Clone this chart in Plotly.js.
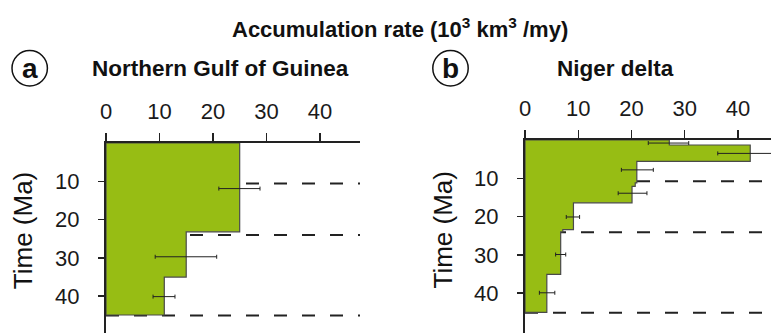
<!DOCTYPE html>
<html>
<head>
<meta charset="utf-8">
<script src="https://cdn.plot.ly/plotly-3.0.1.min.js"></script>
<style>html,body{margin:0;padding:0;background:#fff;}#chart{width:771px;height:333px;}</style>
</head>
<body>
<div id="chart"></div>
<script>
// ---- Data ----
// Panel a: Northern Gulf of Guinea
const boundsA = [0, 23.2, 35.0, 44.9];          // interval limits (Ma)
const ratesA  = [25.0, 15.0, 10.9];              // accumulation rate (10^3 km^3/my)
const errTimeA = [11.9, 29.7, 40.1];
const errMeanA = [24.95, 14.95, 10.85];
const errSizeA = [3.85, 5.75, 2.05];
const dashA = [10.6, 24.0, 45.0];

// Panel b: Niger delta
const boundsB = [0, 1.3, 5.6, 11.2, 12.1, 16.4, 23.4, 24.0, 35.1, 45.0];
const ratesB  = [27.1, 42.3, 21.0, 20.7, 20.1, 9.1, 7.1, 6.7, 4.1];
const errTimeB = [0.8, 3.5, 7.8, 13.9, 20.1, 29.9, 39.9];
const errMeanB = [26.95, 42.3, 21.1, 20.2, 9.0, 6.7, 4.15];
const errSizeB = [3.8, 6.1, 3.0, 2.7, 1.25, 0.95, 1.45];
const dashB = [10.8, 24.1, 45.1];

const xTicks = [0, 10, 20, 30, 40];
const yTicks = [10, 20, 30, 40];

// ---- Helpers ----
function stepPolygon(bounds, vals) {
  const xs = [0], ys = [bounds[0]];
  for (let i = 0; i < vals.length; i++) {
    xs.push(vals[i], vals[i]);
    ys.push(bounds[i], bounds[i + 1]);
  }
  xs.push(0); ys.push(bounds[bounds.length - 1]);
  xs.push(0); ys.push(bounds[0]);
  return {xs, ys};
}
const GREEN = '#97bd14';
const INK = '#222';
const FONT = 'Liberation Sans, Arial, Helvetica, sans-serif';

function barTrace(bounds, vals, xa, ya) {
  const p = stepPolygon(bounds, vals);
  return {x: p.xs, y: p.ys, xaxis: xa, yaxis: ya, type: 'scatter', mode: 'lines',
    fill: 'toself', fillcolor: GREEN, line: {color: '#4a4a4a', width: 1.2},
    hoverinfo: 'skip', showlegend: false};
}
function errTrace(t, m, e, xa, ya) {
  return {x: m, y: t, xaxis: xa, yaxis: ya, type: 'scatter', mode: 'markers',
    marker: {size: 1, color: 'rgba(0,0,0,0)'},
    error_x: {type: 'data', array: e, visible: true, color: INK, thickness: 1, width: 2},
    hoverinfo: 'skip', showlegend: false};
}

const data = [
  barTrace(boundsA, ratesA, 'x', 'y'),
  errTrace(errTimeA, errMeanA, errSizeA, 'x', 'y'),
  barTrace(boundsB, ratesB, 'x2', 'y2'),
  errTrace(errTimeB, errMeanB, errSizeB, 'x2', 'y2')
];

const W = 771, H = 333;
const px = v => v / W, py = v => 1 - v / H;

function xAxis(domain, range, anchor) {
  return {domain, range, anchor, side: 'top', tickvals: xTicks, ticktext: xTicks.map(String),
    ticks: 'outside', ticklen: 8, tickwidth: 1.5, tickcolor: INK,
    showline: true, linecolor: INK, linewidth: 2, showgrid: false, zeroline: false,
    ticklabelstandoff: 5,
    tickfont: {family: FONT, size: 22, color: '#1a1a1a'}, fixedrange: true};
}
function yAxis(domain, range, anchor) {
  return {domain, range, anchor, tickvals: yTicks, ticktext: yTicks.map(String),
    ticks: 'outside', ticklen: 6, tickwidth: 1.5, tickcolor: INK,
    showline: true, linecolor: INK, linewidth: 2, showgrid: false, zeroline: false,
    ticklabelstandoff: 14,
    tickfont: {family: FONT, size: 22, color: '#1a1a1a'}, fixedrange: true};
}

const shapes = [];
dashA.forEach(d => shapes.push({type: 'line', xref: 'x domain', yref: 'y', x0: 0, x1: 1, y0: d, y1: d,
  line: {color: INK, width: 2, dash: '13px,15px'}, layer: 'below'}));
dashB.forEach(d => shapes.push({type: 'line', xref: 'x2 domain', yref: 'y2', x0: 0, x1: 1, y0: d, y1: d,
  line: {color: INK, width: 2, dash: '13px,15px'}, layer: 'below'}));
// circled panel letters
[[29.7, 68.2], [450.5, 68.2]].forEach(c => shapes.push({type: 'circle', xref: 'paper', yref: 'paper',
  x0: px(c[0] - 17.7), x1: px(c[0] + 17.7), y0: py(c[1] + 17.7), y1: py(c[1] - 17.7),
  line: {color: '#111', width: 1.5}}));

function ann(text, x, y, size, bold, angle) {
  return {text: bold ? '<b>' + text + '</b>' : text, xref: 'paper', yref: 'paper', x: px(x), y: py(y),
    xanchor: 'center', yanchor: 'middle', showarrow: false, textangle: angle || 0,
    font: {family: FONT, size, color: '#111'}};
}

const layout = {
  width: W, height: H, margin: {l: 0, r: 0, t: 0, b: 0},
  paper_bgcolor: '#fff', plot_bgcolor: 'rgba(0,0,0,0)',
  xaxis: xAxis([px(106), px(360)], [0, 47.5], 'y'),
  yaxis: yAxis([0, py(143)], [49.6, 0], 'x'),
  xaxis2: xAxis([px(525), 1], [0, 46.2], 'y2'),
  yaxis2: yAxis([0, py(140)], [50.4, 0], 'x2'),
  shapes,
  annotations: [
    ann('Accumulation rate (10<sup>3</sup> km<sup>3</sup> /my)', 400, 28, 22, true),
    ann('Northern Gulf of Guinea', 220.7, 68.5, 22.5, true),
    ann('Niger delta', 615.3, 68.5, 22.5, true),
    ann('a', 29.7, 68, 28, true),
    ann('b', 450.5, 68, 28, true),
    ann('Time (Ma)', 22.5, 230.7, 26, false, -90),
    ann('Time (Ma)', 442.5, 230, 26, false, -90)
  ],
  showlegend: false
};

Plotly.newPlot('chart', data, layout, {displayModeBar: false, staticPlot: true});
</script>
</body>
</html>
